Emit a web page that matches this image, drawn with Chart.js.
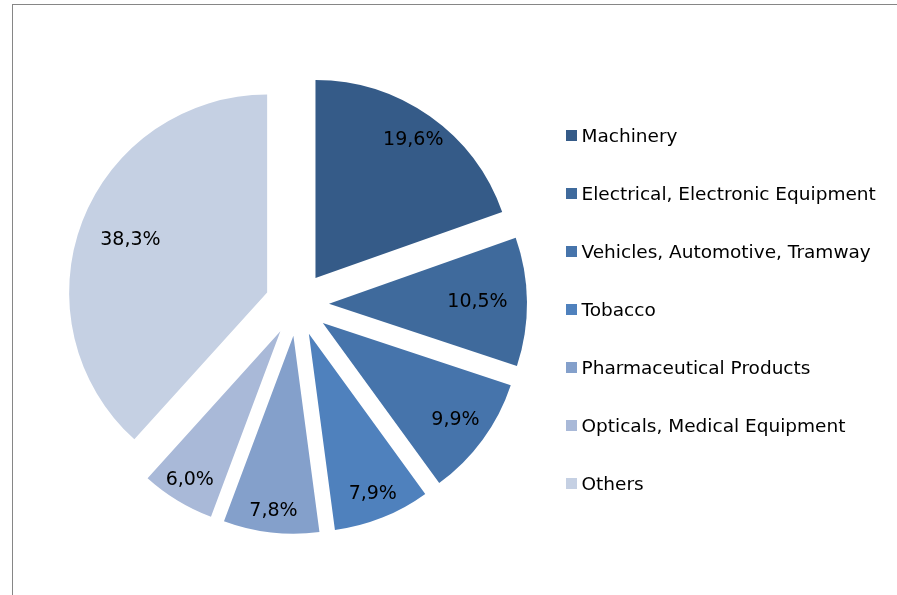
<!DOCTYPE html>
<html>
<head>
<meta charset="utf-8">
<script src="https://cdn.jsdelivr.net/npm/chart.js@4/dist/chart.umd.min.js"></script>
<style>
  html, body { margin: 0; padding: 0; background: #fff; }
  #wrap { position: relative; width: 897px; height: 595px; overflow: hidden; }
  #frame { position: absolute; left: 12px; top: 4px; width: 900px; height: 600px;
           border-top: 1px solid #868686; border-left: 1px solid #868686; }
  #c { position: absolute; left: 0; top: 0; }
  .lg { position: absolute; left: 566px; height: 58px; display: flex; align-items: center;
        font-family: "DejaVu Sans", Verdana, sans-serif; font-size: 18.5px; color: #000; white-space: nowrap; }
  .lg i { display: inline-block; width: 11px; height: 11px; margin-right: 4.5px; }
</style>
</head>
<body>
<div id="wrap">
  <div id="frame"></div>
  <canvas id="c" width="897" height="595"></canvas>
  <div id="legend"></div>
</div>
<script>
const categories = ["Machinery", "Electrical, Electronic Equipment", "Vehicles, Automotive, Tramway",
                    "Tobacco", "Pharmaceutical Products", "Opticals, Medical Equipment", "Others"];
const shares = [19.6, 10.5, 9.9, 7.9, 7.8, 6.0, 38.3];
const colors = ["#355B88", "#3F6A9C", "#4674AB", "#4F81BD", "#84A0CB", "#A9B9D8", "#C5D0E3"];

const EXPLODE = 32;
const labelRadius = [0.855, 0.75, 0.83, 0.87, 0.89, 0.88, 0.74];

// Draw each library arc translated outward along its bisector (uniform explosion)
const explodePlugin = {
  id: 'explode',
  beforeDatasetDraw(chart, args) {
    const ctx = chart.ctx;
    const meta = chart.getDatasetMeta(args.index);
    meta.data.forEach(arc => {
      const mid = (arc.startAngle + arc.endAngle) / 2;
      ctx.save();
      ctx.translate(Math.cos(mid) * EXPLODE, Math.sin(mid) * EXPLODE);
      arc.draw(ctx);
      ctx.restore();
    });
    return false;
  }
};

const labelPlugin = {
  id: 'sliceLabels',
  afterDatasetsDraw(chart) {
    const ctx = chart.ctx;
    const meta = chart.getDatasetMeta(0);
    ctx.save();
    ctx.font = '19px "DejaVu Sans", Verdana, sans-serif';
    ctx.fillStyle = '#000';
    ctx.textAlign = 'center';
    ctx.textBaseline = 'middle';
    meta.data.forEach((arc, i) => {
      const mid = (arc.startAngle + arc.endAngle) / 2;
      const r = EXPLODE + labelRadius[i] * arc.outerRadius;
      const x = arc.x + Math.cos(mid) * r;
      const y = arc.y + Math.sin(mid) * r;
      ctx.fillText(shares[i].toFixed(1).replace('.', ',') + '%', x, y);
    });
    ctx.restore();
  }
};

new Chart(document.getElementById('c'), {
  type: 'pie',
  data: {
    labels: categories,
    datasets: [{
      data: shares,
      backgroundColor: colors,
      borderWidth: 0
    }]
  },
  options: {
    responsive: false,
    animation: false,
    radius: 198,
    layout: { padding: { left: 83, right: 386, top: 90, bottom: 77 } },
    plugins: { legend: { display: false }, tooltip: { enabled: false } },
    events: []
  },
  plugins: [explodePlugin, labelPlugin]
});

const lg = document.getElementById('legend');
categories.forEach((name, i) => {
  const d = document.createElement('div');
  d.className = 'lg';
  d.style.top = (135 + i * 58 - 29) + 'px';
  const sw = document.createElement('i');
  sw.style.background = colors[i];
  d.appendChild(sw);
  d.appendChild(document.createTextNode(name));
  lg.appendChild(d);
});
</script>
</body>
</html>
